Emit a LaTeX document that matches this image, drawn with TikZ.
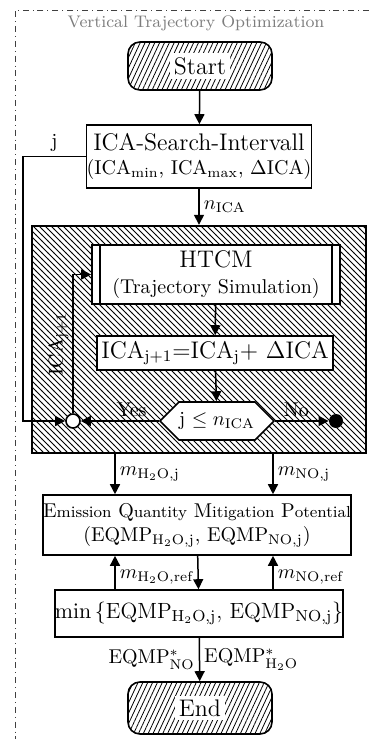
\documentclass[tikz,border=0pt]{standalone}
\usepackage{amsmath,amssymb}
\usepackage{tikz}
\usetikzlibrary{arrows.meta,calc,positioning,patterns,patterns.meta,shapes.symbols}
\definecolor{titlegray}{RGB}{125,125,125}
\newcommand{\eqcap}[2]{#1{\footnotesize #2}}

\tikzset{
  box/.style={draw, line width=0.8pt, fill=white, align=center, inner sep=0pt},
  term/.style={draw, line width=0.8pt, rounded corners=6pt, inner sep=0pt,
    pattern={Lines[angle=65,distance=2.2pt,line width=0.4pt]}},
  termlbl/.style={fill=white, inner sep=2pt, font=\large},
  arr/.style={line width=0.75pt, -{Triangle[length=5pt,width=5pt]}},
  lbl/.style={inner sep=2pt}
}

\begin{document}
\begin{tikzpicture}[x=0.5pt, y=-0.5pt]
  \useasboundingbox (0,0) rectangle (369,739);
  % frame of the optimization
  \draw[dash dot, line width=0.5pt, black!75] (369,10) -| (15,739);
  \node[text=titlegray, font=\fontsize{8.4}{10}\selectfont] (title) at (196,23) {Vertical Trajectory Optimization};

  \node[term, minimum width=72pt, minimum height=24pt] (start) at (200,66) {};
  \node[termlbl] (startlbl) at (start) {Start};

  \node[box, minimum width=111pt, minimum height=31.5pt] (ica) at (199,156.5)
    {{\large ICA-Search-Intervall}\\(ICA$_{\text{min}}$, ICA$_{\text{max}}$, $\Delta$ICA)};

  % iteration loop
  \node[draw, line width=1.2pt, pattern=north west lines, minimum width=167pt, minimum height=113.5pt] (loop) at (199,339.5) {};
  \node[box, minimum width=124pt, minimum height=29.5pt] (htcm) at (216,274.5)
    {{\large HTCM}\\[1pt](Trajectory Simulation)};
  \draw[line width=0.8pt] ($(htcm.north west)+(9,0)$) -- ($(htcm.south west)+(9,0)$)
    ($(htcm.north east)+(-9,0)$) -- ($(htcm.south east)+(-9,0)$);
  \node[box, minimum width=118pt, minimum height=17pt, font=\large] (upd) at (215,353)
    {ICA$_{\mathrm{j+1}}$=ICA$_{\mathrm{j}}$+ $\Delta$ICA};
  \node[box, shape=signal, signal to=east and west, signal pointer angle=90,
    minimum width=45.5pt, minimum height=19pt] (cond) at (217,421) {j $\le n_{\mathrm{ICA}}$};
  \node[draw, circle, line width=0.8pt, fill=white, minimum size=7pt, inner sep=0pt] (join) at (73,421) {};
  \node[circle, fill=black, minimum size=7pt, inner sep=0pt] (stop) at (336,421) {};

  \node[box, minimum width=153pt, minimum height=30pt] (eqmp) at (197,525)
    {\eqcap{E}{mission} \eqcap{Q}{uantity} \eqcap{M}{itigation} \eqcap{P}{otential}\\
     (EQMP$_{\mathrm{H_2O,j}}$, EQMP$_{\mathrm{NO,j}}$)};
  \node[box, minimum width=141.5pt, minimum height=23.5pt, font=\fontsize{11}{13}\selectfont] (minbox) at (199,613.5)
    {$\min\,\{$EQMP$_{\mathrm{H_2O,j}}$, EQMP$_{\mathrm{NO,j}}\}$};

  \node[term, minimum width=72pt, minimum height=26pt] (end) at (200,708) {};
  \node[termlbl] (endlbl) at (end) {End};

  \coordinate (h2o) at (115,0);
  \coordinate (no) at (273,0);

  % connectors
  \draw[arr] (start) -- (ica);
  \draw[arr] (ica) -- (loop) node[midway, right, lbl] {$n_{\mathrm{ICA}}$};
  \draw[arr] (ica.west) -- ++(-63,0) node[midway, above, lbl] {j} |- (join);
  \draw[arr] (htcm) -- (upd);
  \draw[arr] (upd) -- (cond);
  \draw[arr] (cond.west) -- (join) node[pos=0.35, above, lbl] {Yes};
  \draw[arr] (cond.east) -- (stop) node[pos=0.4, above, lbl] {No};
  \draw[arr] (join) |- (htcm.west) node[pos=0.25, sloped, above, lbl] {ICA$_{\mathrm{j+1}}$};
  \draw[arr] (loop.south -| h2o) -- (eqmp.north -| h2o) node[midway, right, lbl] {$m_{\mathrm{H_2O,j}}$};
  \draw[arr] (loop.south -| no) -- (eqmp.north -| no) node[midway, right, lbl] {$m_{\mathrm{NO,j}}$};
  \draw[arr] (minbox.north -| h2o) -- (eqmp.south -| h2o) node[pos=0.35, right, lbl] {$m_{\mathrm{H_2O,ref}}$};
  \draw[arr] (minbox.north -| no) -- (eqmp.south -| no) node[pos=0.35, right, lbl] {$m_{\mathrm{NO,ref}}$};
  \draw[arr] (eqmp) -- (minbox);
  \draw[arr] (minbox) -- (end) node[midway, left, lbl] {EQMP$^*_{\mathrm{NO}}$}
    node[midway, right, lbl] {EQMP$^*_{\mathrm{H_2O}}$};
\end{tikzpicture}
\end{document}
